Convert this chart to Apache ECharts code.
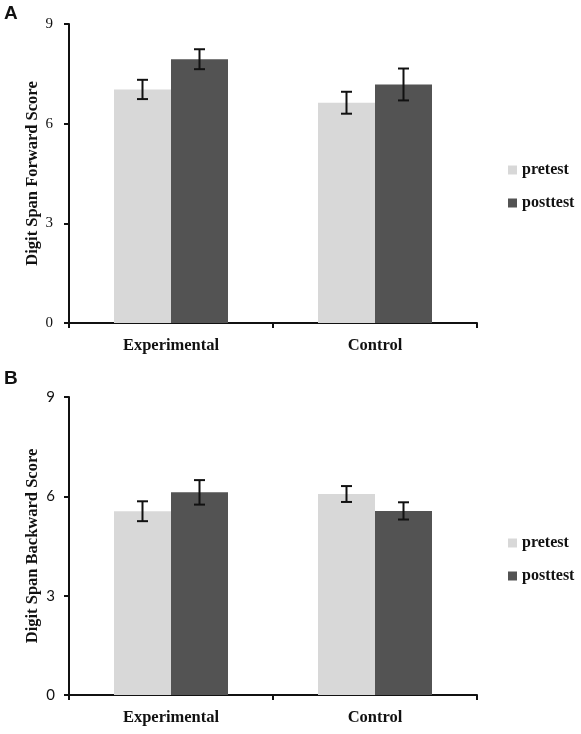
<!DOCTYPE html>
<html>
<head>
<meta charset="utf-8">
<script src="https://cdn.jsdelivr.net/npm/echarts@6/dist/echarts.min.js"></script>
<style>html,body{margin:0;padding:0;background:#fff;}#chart{width:581px;height:734px;}</style>
</head>
<body>
<div id="chart"></div>
<script>
const categories = ['Experimental', 'Control'];
const seriesNames = ['pretest', 'posttest'];
const yTicks = [0, 3, 6, 9];
// Panel A: Digit Span Forward
const forwardPre = [7.03, 6.63];
const forwardPreErr = [0.29, 0.33];
const forwardPost = [7.94, 7.18];
const forwardPostErr = [0.30, 0.48];
// Panel B: Digit Span Backward
const backwardPre = [5.55, 6.07];
const backwardPreErr = [0.30, 0.24];
const backwardPost = [6.12, 5.56];
const backwardPostErr = [0.37, 0.26];

const colors = ['#d8d8d8', '#535353'];
const BAR_W = 57;
const serif = '"Liberation Serif", "Times New Roman", serif';
const sans = 'Lato, "Liberation Sans", sans-serif';

function errSeries(name, gi, means, errs, side) {
  return {
    type: 'custom', name: name + ' err', xAxisIndex: gi, yAxisIndex: gi, z: 10,
    silent: true,
    data: means.map((m, i) => [i, m - errs[i], m + errs[i]]),
    renderItem: function (params, api) {
      const lo = api.coord([api.value(0), api.value(1)]);
      const hi = api.coord([api.value(0), api.value(2)]);
      const x = lo[0] + side * BAR_W / 2;
      const cw = 5.5;
      const st = { stroke: '#111', lineWidth: 2 };
      return { type: 'group', children: [
        { type: 'line', shape: { x1: x, y1: hi[1], x2: x, y2: lo[1] }, style: st },
        { type: 'line', shape: { x1: x - cw, y1: hi[1], x2: x + cw, y2: hi[1] }, style: st },
        { type: 'line', shape: { x1: x - cw, y1: lo[1], x2: x + cw, y2: lo[1] }, style: st }
      ]};
    }
  };
}

function barSeries(name, gi, data, color) {
  return { type: 'bar', name: name, xAxisIndex: gi, yAxisIndex: gi, data: data,
    barWidth: BAR_W, barGap: '0%', itemStyle: { color: color } };
}

function xAxis(gi) {
  return { type: 'category', gridIndex: gi, data: categories,
    axisLine: { lineStyle: { color: '#111', width: 2 } },
    axisTick: { show: true, length: 5, lineStyle: { color: '#111', width: 2 } },
    axisLabel: { margin: 14, color: '#111', fontFamily: serif, fontWeight: 'bold', fontSize: 16.5 } };
}

function yAxis(gi, name, labelFont, margin) {
  return { type: 'value', gridIndex: gi, min: 0, max: 9, interval: 3,
    name: name, nameLocation: 'middle', nameGap: 28, nameMoveOverlap: false,
    nameTextStyle: { color: '#111', fontFamily: serif, fontWeight: 'bold', fontSize: 16.5 },
    splitLine: { show: false },
    axisLine: { show: true, lineStyle: { color: '#111', width: 2 } },
    axisTick: { show: true, length: 5, lineStyle: { color: '#111', width: 2 } },
    axisLabel: { margin: margin, color: '#111', fontFamily: labelFont, fontSize: 15,
      formatter: v => yTicks.includes(v) ? String(v) : '' } };
}

function legend(top) {
  return { orient: 'vertical', left: 508, top: top, padding: 0, itemWidth: 9, itemHeight: 9, itemGap: 17,
    icon: 'rect', data: seriesNames, selectedMode: false,
    textStyle: { color: '#111', fontFamily: serif, fontWeight: 'bold', fontSize: 16 } };
}

const chart = echarts.init(document.getElementById('chart'), null, { renderer: 'canvas' });
chart.setOption({
  animation: false,
  backgroundColor: '#fff',
  title: [
    { text: 'A', left: 4, top: 4, padding: 0, textStyle: { fontFamily: '"Liberation Sans", Arial, sans-serif', fontWeight: 'bold', fontSize: 19, color: '#111' } },
    { text: 'B', left: 4, top: 369, padding: 0, textStyle: { fontFamily: '"Liberation Sans", Arial, sans-serif', fontWeight: 'bold', fontSize: 19, color: '#111' } }
  ],
  legend: [legend(162), legend(535)],
  grid: [
    { left: 69, top: 24, width: 408, height: 299 },
    { left: 69, top: 397, width: 408, height: 298 }
  ],
  xAxis: [xAxis(0), xAxis(1)],
  yAxis: [yAxis(0, 'Digit Span Forward Score', serif, 16), yAxis(1, 'Digit Span Backward Score', sans, 14)],
  series: [
    barSeries('pretest', 0, forwardPre, colors[0]),
    barSeries('posttest', 0, forwardPost, colors[1]),
    barSeries('pretest', 1, backwardPre, colors[0]),
    barSeries('posttest', 1, backwardPost, colors[1]),
    errSeries('pretest', 0, forwardPre, forwardPreErr, -1),
    errSeries('posttest', 0, forwardPost, forwardPostErr, 1),
    errSeries('pretest', 1, backwardPre, backwardPreErr, -1),
    errSeries('posttest', 1, backwardPost, backwardPostErr, 1)
  ]
});
</script>
</body>
</html>
